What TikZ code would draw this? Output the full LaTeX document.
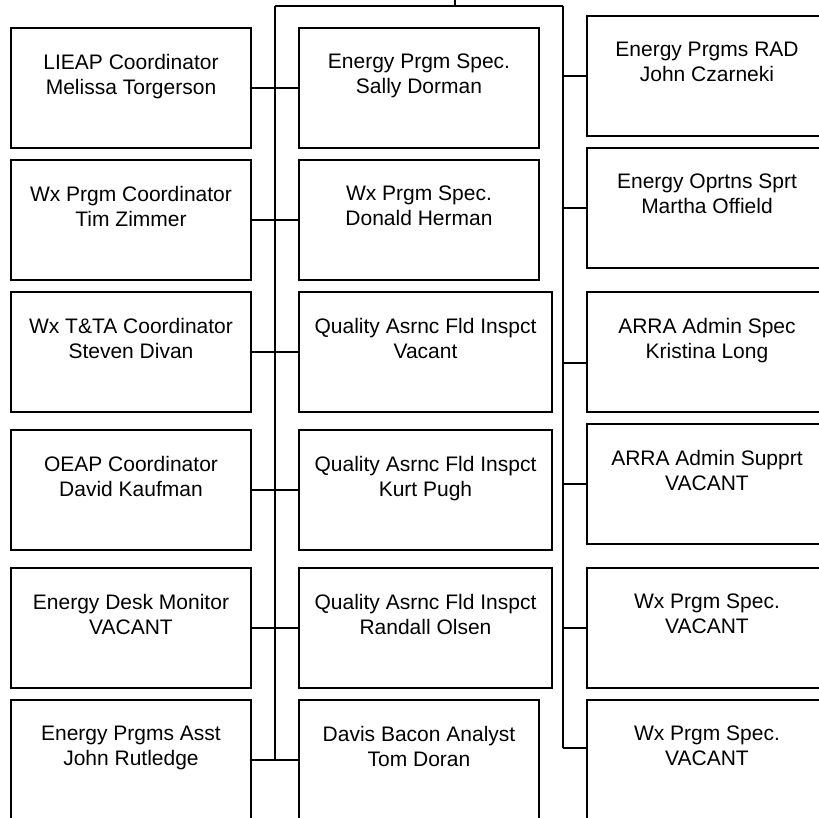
\documentclass[tikz,border=0pt]{standalone}
\usepackage{fontspec}
\setmainfont{Liberation Sans}
\newcommand\orgbox[6]{%
  \node[box, minimum width=#4pt] (#1) at (#2,#3) {};
  \path (#1.north) ++(0,26) node[lbl] {#5\\#6};
}
\begin{document}
\begin{tikzpicture}[x=1pt,y=-1pt,
  box/.style={draw, line width=1.6pt, minimum height=120pt, inner sep=0pt, outer sep=0pt, anchor=north west},
  lbl/.style={anchor=north, align=center, font=\fontsize{21}{25}\selectfont, inner sep=0pt},
  conn/.style={line width=1.3pt}]
\useasboundingbox (0,0) rectangle (819,817);
\clip (0,0) rectangle (819,817);
% left column
\orgbox{l1}{11}{28}{240}{LIEAP Coordinator}{Melissa Torgerson}
\orgbox{l2}{11}{160}{240}{Wx Prgm Coordinator}{Tim Zimmer}
\orgbox{l3}{11}{292}{240}{Wx T\&TA Coordinator}{Steven Divan}
\orgbox{l4}{11}{430}{240}{OEAP Coordinator}{David Kaufman}
\orgbox{l5}{11}{568}{240}{Energy Desk Monitor}{VACANT}
\orgbox{l6}{11}{700}{240}{Energy Prgms Asst}{John Rutledge}
% middle column
\orgbox{m1}{299}{28}{240}{Energy Prgm Spec.}{Sally Dorman}
\orgbox{m2}{299}{160}{240}{Wx Prgm Spec.}{Donald Herman}
\orgbox{m3}{299}{292}{253}{Quality Asrnc Fld Inspct}{Vacant}
\orgbox{m4}{299}{430}{253}{Quality Asrnc Fld Inspct}{Kurt Pugh}
\orgbox{m5}{299}{568}{253}{Quality Asrnc Fld Inspct}{Randall Olsen}
\orgbox{m6}{299}{700}{240}{Davis Bacon Analyst}{Tom Doran}
% right column
\orgbox{r1}{587}{16}{240}{Energy Prgms RAD}{John Czarneki}
\orgbox{r2}{587}{148}{240}{Energy Oprtns Sprt}{Martha Offield}
\orgbox{r3}{587}{292}{240}{ARRA Admin Spec}{Kristina Long}
\orgbox{r4}{587}{424}{240}{ARRA Admin Supprt}{VACANT}
\orgbox{r5}{587}{568}{240}{Wx Prgm Spec.}{VACANT}
\orgbox{r6}{587}{700}{240}{Wx Prgm Spec.}{VACANT}
% connectors
\coordinate (up) at (455,-2);
\coordinate (tl) at (275,6);
\coordinate (tr) at (563,6);
\coordinate (tm) at (455,6);
\draw[conn] (up) -- (tm);
\draw[conn] (tl) -- (tr);
\draw[conn] (tl) -- (tl |- l6.east);
\foreach \i in {1,...,6} {
  \draw[conn] (l\i.east) -- (m\i.west);
}
\coordinate (r3c) at ([yshift=-11pt]r3.west);
\coordinate (r6c) at ([yshift=12pt]r6.west);
\draw[conn] (tr) -- (tr |- r6c);
\draw[conn] (tr |- r1.west) -- (r1.west);
\draw[conn] (tr |- r2.west) -- (r2.west);
\draw[conn] (tr |- r3c) -- (r3c);
\draw[conn] (tr |- r4.west) -- (r4.west);
\draw[conn] (tr |- r5.west) -- (r5.west);
\draw[conn] (tr |- r6c) -- (r6c);
\end{tikzpicture}
\end{document}
